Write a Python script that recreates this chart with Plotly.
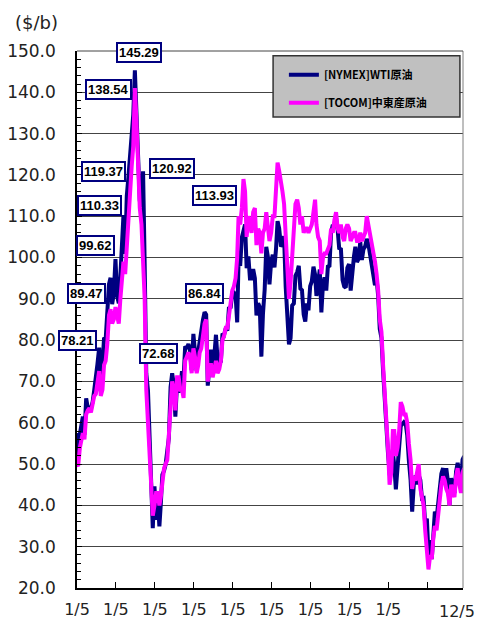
import plotly.graph_objects as go

# ---------------- data (semi-monthly readings: 1st and 16th of each month) ----------------
years = list(range(2007, 2017))

wti_2007 = [57.5, 51.2, 57.3, 59.4, 61.5, 57.1, 65.9, 63.6, 63.7, 63.4, 65.1, 68.0, 70.7, 74.2, 78.2, 71.6, 74.0, 80.6, 80.2, 87.6, 93.5, 95.1, 88.7, 91.3]
wti_2008 = [99.6, 90.8, 88.9, 95.5, 102.6, 110.3, 100.9, 114.9, 119.4, 124.1, 127.4, 134.6, 145.3, 134.6, 125.1, 113.8, 111.5, 120.9, 98.5, 72.0, 67.8, 57.0, 49.3, 34.5]
wti_2009 = [44.6, 36.5, 41.7, 34.9, 40.2, 47.4, 48.4, 50.0, 53.2, 56.3, 68.6, 72.0, 69.3, 61.5, 69.5, 67.5, 68.1, 72.5, 70.8, 78.5, 78.0, 79.1, 77.3, 72.7]
wti_2010 = [81.5, 78.0, 72.5, 77.3, 79.7, 82.9, 84.9, 86.8, 86.2, 69.0, 72.6, 77.7, 72.9, 76.0, 81.3, 75.2, 75.0, 74.6, 81.6, 81.3, 82.9, 82.3, 88.0, 87.7]
wti_2011 = [91.4, 91.5, 90.9, 84.3, 99.6, 98.0, 104.9, 106.7, 108.0, 97.4, 100.3, 94.9, 94.9, 97.2, 95.0, 86.0, 88.9, 88.0, 76.0, 86.4, 92.2, 102.6, 100.2, 93.5]
wti_2012 = [99.0, 100.7, 97.6, 102.3, 108.8, 107.1, 103.0, 102.9, 105.2, 93.0, 83.2, 79.0, 80.5, 88.4, 88.9, 95.6, 96.5, 98.0, 92.5, 92.1, 86.2, 84.5, 88.9, 87.2]
wti_2013 = [93.1, 94.2, 97.8, 95.9, 90.7, 93.5, 97.1, 86.7, 93.5, 95.2, 92.0, 97.8, 98.0, 106.0, 107.9, 107.5, 109.5, 106.6, 102.0, 102.3, 94.6, 93.0, 92.7, 97.5]
wti_2014 = [98.4, 92.0, 97.5, 100.3, 102.6, 98.9, 99.7, 103.8, 99.4, 102.0, 102.7, 104.5, 103.3, 101.2, 97.9, 96.4, 93.3, 94.9, 90.7, 82.7, 80.5, 72.6, 66.2, 56.0]
wti_2015 = [52.7, 48.0, 48.2, 52.8, 49.8, 43.9, 50.1, 56.7, 59.2, 59.7, 60.2, 59.9, 56.9, 50.9, 46.2, 38.5, 45.4, 47.2, 45.1, 47.3, 46.1, 41.7, 41.8, 35.5]
wti_2016 = [36.8, 28.0, 31.6, 27.0, 34.4, 38.5, 36.8, 40.4, 45.9, 47.7, 49.0, 46.2, 49.0, 45.9, 40.1, 46.6, 44.4, 43.0, 48.2, 50.3, 46.7, 45.6, 51.1, 51.9]

me_2007 = [50.0, 49.5, 54.0, 55.5, 57.5, 56.0, 62.0, 63.0, 63.5, 62.5, 64.5, 66.5, 67.0, 70.5, 72.5, 66.5, 68.0, 74.0, 75.0, 79.0, 86.0, 87.5, 84.0, 85.0]
me_2008 = [88.0, 86.0, 84.0, 90.0, 95.0, 99.0, 96.0, 103.0, 108.0, 117.0, 122.0, 127.0, 141.0, 133.0, 120.0, 112.0, 108.0, 100.0, 90.0, 68.0, 60.0, 50.0, 45.0, 37.5]
me_2009 = [40.0, 43.0, 43.0, 40.0, 42.0, 46.0, 49.0, 50.0, 51.0, 57.0, 64.0, 70.0, 68.0, 63.0, 71.0, 71.0, 68.0, 68.0, 66.0, 75.0, 76.0, 77.0, 76.0, 72.0]
me_2010 = [78.0, 76.0, 72.0, 74.0, 77.0, 78.0, 81.0, 84.0, 85.0, 70.0, 74.0, 74.0, 71.0, 73.0, 75.0, 72.0, 73.0, 75.0, 80.0, 81.0, 83.0, 83.0, 86.0, 89.0]
me_2011 = [92.0, 93.0, 95.0, 100.0, 110.0, 108.0, 112.0, 119.0, 116.0, 105.0, 110.0, 108.0, 106.0, 111.0, 112.0, 103.0, 107.0, 106.0, 101.0, 106.0, 107.0, 111.0, 108.0, 104.0]
me_2012 = [106.0, 110.0, 110.0, 117.0, 123.0, 121.0, 119.0, 116.0, 113.0, 106.0, 98.0, 90.0, 94.0, 101.0, 108.0, 113.0, 114.0, 112.0, 108.0, 110.0, 106.0, 107.0, 107.0, 106.0]
me_2013 = [107.0, 108.0, 111.0, 114.0, 108.0, 105.0, 104.0, 96.0, 100.0, 101.0, 101.0, 102.0, 103.0, 107.0, 106.0, 109.0, 111.0, 107.0, 106.0, 108.0, 105.0, 104.0, 107.0, 108.0]
me_2014 = [107.0, 104.0, 105.0, 106.0, 106.0, 104.0, 104.0, 106.0, 104.0, 105.0, 106.0, 110.0, 108.0, 105.0, 103.0, 101.0, 99.0, 96.0, 92.0, 85.0, 82.0, 74.0, 68.0, 59.0]
me_2015 = [54.0, 45.0, 48.0, 58.0, 58.0, 52.0, 54.0, 58.0, 65.0, 64.0, 62.0, 62.0, 60.0, 55.0, 51.0, 44.0, 47.0, 46.0, 48.0, 50.0, 44.0, 42.0, 40.0, 34.0]
me_2016 = [30.0, 24.5, 28.0, 27.0, 32.0, 35.0, 34.0, 38.0, 42.0, 45.0, 47.0, 46.0, 44.0, 43.0, 40.0, 45.0, 43.0, 42.0, 47.0, 49.0, 45.0, 43.0, 48.0, 49.0]

wti_values = (wti_2007 + wti_2008 + wti_2009 + wti_2010 + wti_2011 +
              wti_2012 + wti_2013 + wti_2014 + wti_2015 + wti_2016)
me_values = (me_2007 + me_2008 + me_2009 + me_2010 + me_2011 +
             me_2012 + me_2013 + me_2014 + me_2015 + me_2016)

dates = [f"{y}-{m:02d}-{d:02d}" for y in years for m in range(1, 13) for d in (1, 16)]

series_names = ["<b>[NYMEX]WTI原油</b>", "<b>[TOCOM]中東産原油</b>"]

tick_dates = ["2007-01-05", "2008-01-05", "2009-01-05", "2010-01-05", "2011-01-05",
              "2012-01-05", "2013-01-05", "2014-01-05", "2015-01-05", "2016-01-05"]
tick_text = ["1/5"] * 9 + [""]
end_label = "12/5"

label_texts = ["145.29", "138.54", "119.37", "120.92", "113.93", "110.33",
               "99.62", "89.47", "86.84", "78.21", "72.68"]

# ---------------- styling ----------------
label_pos = [(0.1606, 0.9981), (0.0829, 0.9274), (0.0699, 0.7765), (0.2461, 0.7821),
             (0.3575, 0.7318), (0.0570, 0.7132), (0.0492, 0.6369), (0.0259, 0.5475),
             (0.3316, 0.5493), (0.0, 0.4600), (0.2124, 0.4376)]

fig = go.Figure()
fig.add_trace(go.Scatter(x=dates, y=wti_values, mode="lines", name=series_names[0],
                         legendgroup="a", line=dict(color="#000080", width=4)))
fig.add_trace(go.Scatter(x=dates, y=me_values, mode="lines", name=series_names[1],
                         legendgroup="b", line=dict(color="#ff00ff", width=4)))

annotations = []
for txt, (px, py) in zip(label_texts, label_pos):
    annotations.append(dict(
        x=px, y=py, xref="paper", yref="paper", text=f"<b>{txt}</b>", showarrow=False,
        xanchor="center", yanchor="middle",
        font=dict(family="Liberation Sans, Arial, sans-serif", size=13, color="black"),
        bgcolor="white", bordercolor="#000080", borderwidth=2, borderpad=1))
annotations.append(dict(
    x=-0.106, y=1.054, xref="paper", yref="paper", text="($/b)", showarrow=False,
    xanchor="center", yanchor="middle",
    font=dict(family="DejaVu Sans", size=18, color="#222")))
annotations.append(dict(
    x=0.984, y=-0.0445, xref="paper", yref="paper", text=end_label, showarrow=False,
    xanchor="center", yanchor="middle",
    font=dict(family="DejaVu Sans", size=16, color="#222")))

shapes = [
    dict(type="rect", xref="paper", yref="paper", x0=0.508, x1=0.992, y0=0.877, y1=0.991,
         fillcolor="#c0c0c0", line=dict(color="#333333", width=1.5), layer="above"),
    dict(type="line", xref="paper", yref="paper", x0=1, x1=1, y0=0, y1=1,
         line=dict(color="#7f7f7f", width=1)),
    dict(type="line", xref="paper", yref="paper", x0=0, x1=1, y0=1, y1=1,
         line=dict(color="#444444", width=1)),
]

fig.update_layout(
    width=484, height=621, autosize=False,
    margin=dict(l=77, r=21, t=51, b=33, pad=0),
    paper_bgcolor="white", plot_bgcolor="white",
    font=dict(family="DejaVu Sans", size=17, color="#222"),
    showlegend=True,
    legend=dict(x=0.536, y=0.983, xanchor="left", yanchor="top",
                bgcolor="rgba(0,0,0,0)", borderwidth=0,
                font=dict(family="Noto Sans CJK JP", size=11, color="black"),
                tracegroupgap=9, traceorder="grouped", itemwidth=30),
    annotations=annotations,
    shapes=shapes,
)

fig.update_xaxes(
    type="date", range=["2007-01-05", "2016-12-05"], automargin=False,
    tickvals=tick_dates, ticktext=tick_text,
    showgrid=False, zeroline=False,
    showline=True, linecolor="black", linewidth=1.5,
    ticks="inside", ticklen=6, tickcolor="black", tickwidth=1,
    ticklabelstandoff=6,
    tickfont=dict(family="DejaVu Sans", size=16, color="#222"),
)
fig.update_yaxes(
    range=[20, 150], dtick=10, tick0=20, tickformat=".1f", automargin=False,
    showgrid=True, gridcolor="#444444", gridwidth=1, zeroline=False,
    showline=True, linecolor="black", linewidth=1.5,
    ticks="inside", ticklen=5, tickcolor="black",
    minor=dict(dtick=2, ticks="inside", ticklen=4, tickcolor="black", showgrid=False),
    ticklabelstandoff=16,
    tickfont=dict(family="DejaVu Sans", size=17, color="#222"),
)

fig.write_html("out.html")
